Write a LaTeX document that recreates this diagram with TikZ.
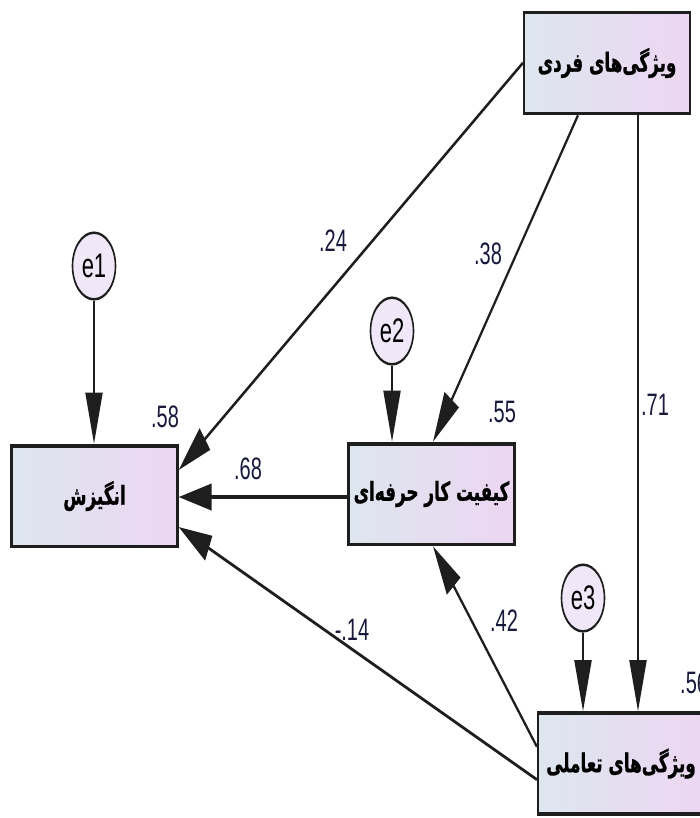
\documentclass[tikz,border=0pt]{standalone}
\usepackage{fontspec}
\usetikzlibrary{arrows.meta,calc}
\TeXXeTstate=1
\newfontfamily\farsifont[Script=Arabic, BoldFeatures={FakeBold=1.2}]{DejaVu Sans}
\newfontfamily\numfont{Liberation Sans}
\definecolor{boxleft}{RGB}{222,230,238}
\definecolor{boxright}{RGB}{236,214,242}
\definecolor{errfill}{RGB}{240,232,248}
\definecolor{boxline}{RGB}{30,30,30}
\definecolor{numcol}{RGB}{25,25,60}

\tikzset{
    varbox/.style={draw=boxline, line width=2.4pt, minimum width=166pt, minimum height=65pt,
        inner sep=0pt, left color=boxleft, right color=boxright,
        font=\farsifont\bfseries\fontsize{16.8}{18}\selectfont},
    errnode/.style={circle, draw=boxline, line width=1.6pt, minimum size=43pt, inner sep=0pt,
        fill=errfill, font=\numfont\fontsize{22}{24}\selectfont},
    causal/.style={line width=2pt, draw=boxline, -{Triangle[length=33pt,width=17pt]}},
    coef/.style={font=\numfont\fontsize{20}{22}\selectfont, text=numcol, inner sep=0pt}
}

\begin{document}
\begin{tikzpicture}[x=1pt,y=-1pt]
    \fill[white] (0,0) rectangle (699,818);
    \useasboundingbox (0,0) rectangle (699,818);
    \begin{scope}[y=-0.6452pt, transform canvas={yscale=1.55}]
        \node[varbox] (fardi) at (607,63) {\beginR ویژگی‌های فردی\endR};
        \node[varbox] (angizesh) at (94.5,496) {\beginR انگیزش\endR};
        \node[varbox] (keyfiyat) at (431.5,494) {\beginR کیفیت کار حرفه‌ای\endR};
        \node[varbox] (taamoli) at (621,763.5) {\beginR ویژگی‌های تعاملی\endR};

        \node[errnode] (e1) at (94,266) {e1};
        \node[errnode] (e2) at (392,331) {e2};
        \node[errnode] (e3) at (583,598) {e3};

        \coordinate (k68) at ($(keyfiyat.west)+(0,3)$);

        \draw[causal] (e1.south) -- (e1.south |- angizesh.north);
        \draw[causal] (e2.south) -- (e2.south |- keyfiyat.north);
        \draw[causal] (e3.south) -- (e3.south |- taamoli.north);

        \draw[causal] (fardi.west) -- ($(angizesh.east)+(0,-26)$);
        \draw[causal] ([xshift=-29pt]fardi.south) -- ([xshift=1.5pt]keyfiyat.north);
        \draw[causal] ([xshift=31pt]fardi.south) -- ([xshift=31pt]fardi.south |- taamoli.north);
        \draw[causal] (k68) -- (k68 -| angizesh.east);
        \draw[causal] ($(taamoli.west)+(0,-17)$) -- ([xshift=1.5pt]keyfiyat.south);
        \draw[causal] ($(taamoli.west)+(0,16)$) -- ($(angizesh.east)+(0,31)$);

        \node[coef] (r1) at (165,417) {.58};
        \node[coef] (r2) at (502,412) {.55};
        \node[coef, anchor=west] (r3) at (680,683) {.56};
        \node[coef] (w1) at (333,241) {.24};
        \node[coef] (w2) at (488,254) {.38};
        \node[coef] (w3) at (655,405) {.71};
        \node[coef] (w4) at (248,469) {.68};
        \node[coef] (w5) at (504,621) {.42};
        \node[coef] (w6) at (352,630) {-.14};
    \end{scope}
\end{tikzpicture}
\end{document}
